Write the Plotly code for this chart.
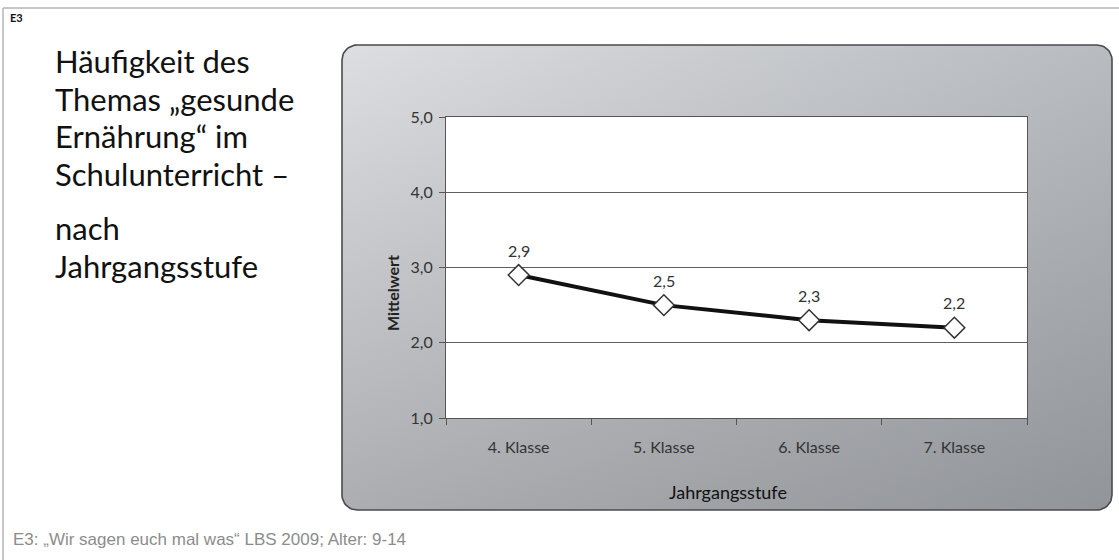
import numpy as np
import plotly.graph_objects as go

# ---- data -------------------------------------------------------------
categories = ["4. Klasse", "5. Klasse", "6. Klasse", "7. Klasse"]
mittelwert = [2.9, 2.5, 2.3, 2.2]
y_tickvals = [1.0, 2.0, 3.0, 4.0, 5.0]

title_block_1 = ["Häufigkeit des", "Themas „gesunde", "Ernährung“ im", "Schulunterricht –"]
title_block_2 = ["nach", "Jahrgangsstufe"]
source_note = "E3: „Wir sagen euch mal was“ LBS 2009; Alter: 9-14"
panel_tag = "E3"

# ---- page geometry (pixels, origin top-left) --------------------------
W, H = 1119, 560
BOX = (342, 45, 1112, 510)          # rounded gray panel
PLOT = (446, 117, 1027, 418)        # white plotting area

CHART_FONT = "Lato"
TITLE_FONT = "Lato"


def rounded_rect(x0, y0, x1, y1, r, n=14):
    xs, ys = [], []
    corners = [(x1 - r, y0 + r, -90, 0), (x1 - r, y1 - r, 0, 90),
               (x0 + r, y1 - r, 90, 180), (x0 + r, y0 + r, 180, 270)]
    for cx, cy, a0, a1 in corners:
        t = np.radians(np.linspace(a0, a1, n))
        xs += list(cx + r * np.cos(t))
        ys += list(cy + r * np.sin(t))
    xs.append(xs[0])
    ys.append(ys[0])
    return xs, ys


bx, by = rounded_rect(*BOX, r=15)

fig = go.Figure()

# gray panel: horizontal light-to-mid gradient ...
fig.add_trace(go.Scatter(
    x=bx, y=by, xaxis="x", yaxis="y", mode="lines", fill="toself",
    line=dict(color="rgba(0,0,0,0)", width=0),
    fillgradient=dict(type="horizontal",
                      colorscale=[[0, "rgb(220,222,225)"], [1, "rgb(184,187,191)"]]),
    hoverinfo="skip", showlegend=False,
))
# ... darkened towards the bottom, framed by a dark outline
fig.add_trace(go.Scatter(
    x=bx, y=by, xaxis="x", yaxis="y", mode="lines", fill="toself",
    line=dict(color="#4a4b4d", width=1.6),
    fillgradient=dict(type="vertical",
                      colorscale=[[0, "rgba(40,42,46,0.27)"], [1, "rgba(40,42,46,0)"]]),
    hoverinfo="skip", showlegend=False,
))

# the series
fig.add_trace(go.Scatter(
    x=categories, y=mittelwert, xaxis="x2", yaxis="y2",
    mode="lines+markers",
    line=dict(color="#111111", width=4),
    marker=dict(symbol="diamond", size=16, color="white",
                line=dict(color="#333333", width=1.5)),
    hoverinfo="skip", showlegend=False,
))

annotations = []
# value labels above the markers
for c, v in zip(categories, mittelwert):
    annotations.append(dict(
        x=c, y=v, xref="x2", yref="y2", text=f"{v:.1f}".replace(".", ","),
        showarrow=False, yshift=25,
        font=dict(family=CHART_FONT, size=16, color="#333333"),
    ))

# axis titles
annotations.append(dict(
    x=392, y=293, xref="x", yref="y", text="<b>Mittelwert</b>", textangle=-90,
    showarrow=False, font=dict(family=CHART_FONT, size=16, color="#222222"),
))
annotations.append(dict(
    x=728, y=492, xref="x", yref="y", text="Jahrgangsstufe",
    showarrow=False, font=dict(family=CHART_FONT, size=18, color="#111111"),
))

# heading on the left
for yc, line in zip([61, 99, 136, 174], title_block_1):
    annotations.append(dict(
        x=53, y=yc, xref="x", yref="y", text=line, xanchor="left", yanchor="middle",
        showarrow=False, font=dict(family=TITLE_FONT, size=31, color="#111111"),
    ))
for yc, line in zip([228, 266], title_block_2):
    annotations.append(dict(
        x=53, y=yc, xref="x", yref="y", text=line, xanchor="left", yanchor="middle",
        showarrow=False, font=dict(family=TITLE_FONT, size=31, color="#111111"),
    ))

# tag and source
annotations.append(dict(
    x=8, y=17, xref="x", yref="y", text=f"<b>{panel_tag}</b>", xanchor="left",
    showarrow=False, font=dict(family=TITLE_FONT, size=11, color="#111111"),
))
annotations.append(dict(
    x=11, y=539, xref="x", yref="y", text=source_note, xanchor="left",
    showarrow=False, font=dict(family="Liberation Sans", size=17, color="#8c8c8c"),
))

shapes = [
    # page frame (top and left edges)
    dict(type="line", xref="x", yref="y", x0=3, x1=W, y0=8, y1=8,
         line=dict(color="#b5b5b5", width=1.5)),
    dict(type="line", xref="x", yref="y", x0=3, x1=3, y0=8, y1=H,
         line=dict(color="#b5b5b5", width=1.5)),
]

fig.update_layout(
    width=W, height=H,
    margin=dict(l=0, r=0, t=0, b=0, pad=0, autoexpand=False),
    paper_bgcolor="white",
    plot_bgcolor="white",
    separators=",.",
    xaxis=dict(domain=[0, 1], range=[0, W], visible=False, fixedrange=True),
    yaxis=dict(domain=[0, 1], range=[H, 0], visible=False, fixedrange=True),
    xaxis2=dict(
        domain=[PLOT[0] / W, PLOT[2] / W], anchor="y2",
        type="category", range=[-0.5, len(categories) - 0.5],
        showgrid=False, showline=True, mirror=True, linecolor="#555555", linewidth=1.2,
        ticks="outside", tickson="boundaries", ticklen=6, tickcolor="#555555",
        ticklabelstandoff=15,
        tickfont=dict(family=CHART_FONT, size=16, color="#333333"),
    ),
    yaxis2=dict(
        domain=[1 - PLOT[3] / H, 1 - PLOT[1] / H], anchor="x2",
        range=[1, 5], tickvals=y_tickvals, tickformat=".1f",
        showgrid=True, gridcolor="#5f5f5f", gridwidth=1.2,
        showline=True, mirror=True, linecolor="#555555", linewidth=1.2,
        ticks="outside", ticklen=6, tickcolor="#555555",
        ticklabelstandoff=3,
        tickfont=dict(family=CHART_FONT, size=16, color="#333333"),
        zeroline=False,
    ),
    annotations=annotations,
    shapes=shapes,
)

fig.write_html("out.html")
